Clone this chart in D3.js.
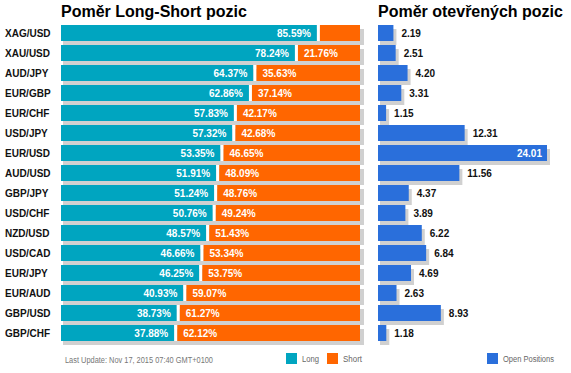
<!DOCTYPE html>
<html>
<head>
<meta charset="utf-8">
<script src="https://cdn.jsdelivr.net/npm/d3@7"></script>
<style>
  body { margin: 0; background: #fff; }
  svg { display: block; font-family: Arial, "Liberation Sans", sans-serif; }
</style>
</head>
<body>
<svg id="chart" width="571" height="373"></svg>
<script>
var pairs = ['XAG/USD', 'XAU/USD', 'AUD/JPY', 'EUR/GBP', 'EUR/CHF', 'USD/JPY', 'EUR/USD', 'AUD/USD',
  'GBP/JPY', 'USD/CHF', 'NZD/USD', 'USD/CAD', 'EUR/JPY', 'EUR/AUD', 'GBP/USD', 'GBP/CHF'];
var longPct = [85.59, 78.24, 64.37, 62.86, 57.83, 57.32, 53.35, 51.91, 51.24, 50.76, 48.57, 46.66, 46.25, 40.93, 38.73, 37.88];
var shortPct = [14.41, 21.76, 35.63, 37.14, 42.17, 42.68, 46.65, 48.09, 48.76, 49.24, 51.43, 53.34, 53.75, 59.07, 61.27, 62.12];
var openPos = [2.19, 2.51, 4.20, 3.31, 1.15, 12.31, 24.01, 11.56, 4.37, 3.89, 6.22, 6.84, 4.69, 2.63, 8.93, 1.18];

var TEAL = '#00a5c0', ORANGE = '#ff6600', BLUE = '#2a6fdb', SHADOW = '#d0d0d0';

var svg = d3.select('#chart');

var y = d3.scaleBand().domain(pairs).range([23, 343]).paddingInner(0.2).paddingOuter(0.1);
var xRatio = d3.scaleLinear().domain([0, 100]).range([61, 360]);
var xOpen = d3.scaleLinear().domain([0, d3.max(openPos)]).range([378, 547]);

var rows = pairs.map((p, i) => ({ pair: p, long: longPct[i], short: shortPct[i], open: openPos[i] }));

// Titles
svg.append('text').attr('x', 61).attr('y', 17).attr('font-size', 16).attr('font-weight', 'bold')
  .text('Poměr Long-Short pozic');
svg.append('text').attr('x', 378).attr('y', 17).attr('font-size', 16).attr('font-weight', 'bold')
  .text('Poměr otevřených pozic');

// Pair labels
svg.append('g').selectAll('text').data(rows).join('text')
  .attr('x', 5)
  .attr('y', (d) => y(d.pair) + y.bandwidth() / 2 + 3.6)
  .attr('font-size', 10).attr('font-weight', 'bold').attr('fill', '#111')
  .text((d) => d.pair);

// Long / short bars
var left = svg.append('g');
left.selectAll('rect.shadow').data(rows).join('rect')
  .attr('class', 'shadow')
  .attr('x', xRatio(0) + 2)
  .attr('y', (d) => y(d.pair) + 4)
  .attr('width', xRatio(100) - xRatio(0) + 2)
  .attr('height', y.bandwidth())
  .attr('fill', SHADOW);

left.selectAll('rect.long').data(rows).join('rect')
  .attr('class', 'long')
  .attr('x', xRatio(0))
  .attr('y', (d) => y(d.pair))
  .attr('width', (d) => xRatio(d.long) - xRatio(0))
  .attr('height', y.bandwidth())
  .attr('fill', TEAL);

// white gap between long and short
left.selectAll('rect.gap').data(rows).join('rect')
  .attr('class', 'gap')
  .attr('x', (d) => xRatio(d.long))
  .attr('y', (d) => y(d.pair))
  .attr('width', 3)
  .attr('height', y.bandwidth())
  .attr('fill', '#fff');

left.selectAll('rect.short').data(rows).join('rect')
  .attr('class', 'short')
  .attr('x', (d) => xRatio(d.long) + 3)
  .attr('y', (d) => y(d.pair))
  .attr('width', (d) => xRatio(100) - xRatio(d.long) - 3)
  .attr('height', y.bandwidth())
  .attr('fill', ORANGE);

left.selectAll('text.long').data(rows).join('text')
  .attr('class', 'long')
  .attr('x', (d) => xRatio(d.long) - 6)
  .attr('y', (d) => y(d.pair) + y.bandwidth() / 2 + 3.6)
  .attr('text-anchor', 'end')
  .attr('font-size', 10).attr('font-weight', 'bold').attr('fill', '#fff')
  .text((d) => d.long.toFixed(2) + '%');

left.selectAll('text.short').data(rows.filter((d) => d.short >= 20)).join('text')
  .attr('class', 'short')
  .attr('x', (d) => xRatio(d.long) + 9)
  .attr('y', (d) => y(d.pair) + y.bandwidth() / 2 + 3.6)
  .attr('font-size', 10).attr('font-weight', 'bold').attr('fill', '#fff')
  .text((d) => d.short.toFixed(2) + '%');

// Open positions bars
var right = svg.append('g');
right.selectAll('rect.shadow').data(rows).join('rect')
  .attr('class', 'shadow')
  .attr('x', xOpen(0) + 2)
  .attr('y', (d) => y(d.pair) + 4)
  .attr('width', (d) => xOpen(d.open) - xOpen(0) + 1)
  .attr('height', y.bandwidth())
  .attr('fill', SHADOW);

right.selectAll('rect.bar').data(rows).join('rect')
  .attr('class', 'bar')
  .attr('x', xOpen(0))
  .attr('y', (d) => y(d.pair))
  .attr('width', (d) => xOpen(d.open) - xOpen(0))
  .attr('height', y.bandwidth())
  .attr('fill', BLUE);

right.selectAll('text').data(rows).join('text')
  .attr('x', (d) => (xOpen(d.open) > 520 ? xOpen(d.open) - 5 : xOpen(d.open) + 8))
  .attr('y', (d) => y(d.pair) + y.bandwidth() / 2 + 3.6)
  .attr('text-anchor', (d) => (xOpen(d.open) > 520 ? 'end' : 'start'))
  .attr('font-size', 10).attr('font-weight', 'bold')
  .attr('fill', (d) => (xOpen(d.open) > 520 ? '#fff' : '#111'))
  .text((d) => d.open.toFixed(2));

// Footer + legends
svg.append('text').attr('x', 65).attr('y', 363)
  .attr('font-size', 8.5).attr('fill', '#777')
  .attr('textLength', 148).attr('lengthAdjust', 'spacingAndGlyphs')
  .text('Last Update: Nov 17, 2015 07:40 GMT+0100');

var legend = [
  { label: 'Long', color: TEAL, x: 286, w: 17 },
  { label: 'Short', color: ORANGE, x: 327, w: 19 },
  { label: 'Open Positions', color: BLUE, x: 487, w: 51 }
];
var lg = svg.append('g').selectAll('g').data(legend).join('g');
lg.append('rect')
  .attr('x', (d) => d.x).attr('y', 353)
  .attr('width', 11).attr('height', 11)
  .attr('fill', (d) => d.color);
lg.append('text')
  .attr('x', (d) => d.x + 16).attr('y', 362)
  .attr('font-size', 8.5).attr('fill', '#666')
  .attr('textLength', (d) => d.w).attr('lengthAdjust', 'spacingAndGlyphs')
  .text((d) => d.label);
</script>
</body>
</html>
